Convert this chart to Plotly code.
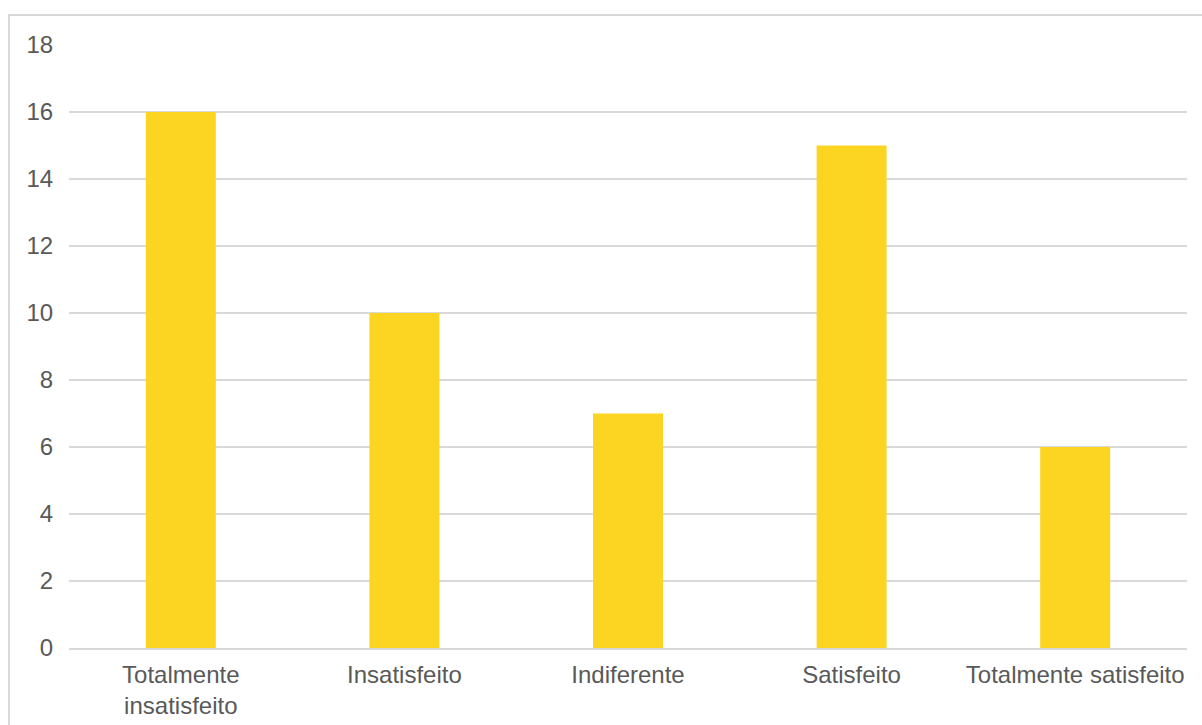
import plotly.graph_objects as go

categories = ["Totalmente<br>insatisfeito", "Insatisfeito", "Indiferente", "Satisfeito", "Totalmente satisfeito"]
values = [16, 10, 7, 15, 6]
tick_vals = [0, 2, 4, 6, 8, 10, 12, 14, 16, 18]

L, R, T, B = 69, 15, 45, 77
W, H = 1202, 725
pw = W - L - R
ph = H - T - B

fig = go.Figure(go.Bar(x=categories, y=values, marker_color="#FCD422", marker_line_width=0))

fig.update_layout(
    width=W, height=H,
    margin=dict(l=L, r=R, t=T, b=B, pad=0, autoexpand=False),
    paper_bgcolor="white", plot_bgcolor="white",
    bargap=0.687,
    showlegend=False,
    font=dict(family="Liberation Sans, Arial, sans-serif", size=24, color="#595959"),
    xaxis=dict(showgrid=False, showline=True, linecolor="#D9D9D9", linewidth=1.5,
               ticks="outside", ticklen=4, tickcolor="rgba(0,0,0,0)", automargin=False,
               tickfont=dict(size=24, color="#595959"), fixedrange=True),
    yaxis=dict(range=[0, 18], tickvals=tick_vals, showgrid=True, gridcolor="#D9D9D9",
               gridwidth=1.5, zeroline=False, showline=False, ticks="outside",
               ticklen=10, tickcolor="rgba(0,0,0,0)", automargin=False,
               tickfont=dict(size=24, color="#595959")),
    shapes=[dict(type="rect", xref="paper", yref="paper",
                 x0=(9 - L) / pw, x1=(W + 20 - L) / pw,
                 y0=-(H + 20 - T - ph) / ph, y1=(H - 15 - B) / ph,
                 line=dict(color="#D9D9D9", width=2), fillcolor="rgba(0,0,0,0)",
                 layer="below")],
)

fig.write_html("out.html")
